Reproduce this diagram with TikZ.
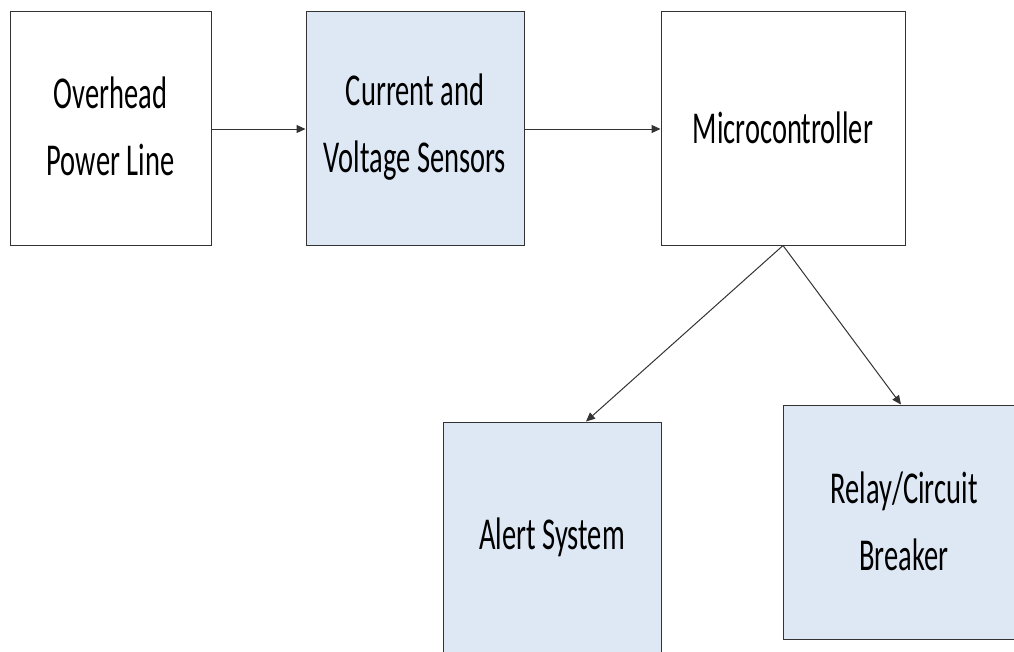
\documentclass[tikz,border=0pt]{standalone}
\usepackage{fontspec}
\setmainfont{Carlito}
\usetikzlibrary{arrows.meta}
\definecolor{boxblue}{HTML}{DEE8F5}
\definecolor{edge}{HTML}{333333}
\tikzset{
  blockbox/.style={draw=edge, line width=1pt, minimum width=#1, inner sep=0pt},
  boxtext/.style={yscale=1.6, transform shape, align=center, inner sep=0pt, text=black,
    font=\fontsize{28.5}{41.9}\selectfont},
  arr/.style={draw=edge, line width=1pt, -{Triangle[length=9pt,width=8pt]}}
}
\begin{document}
\begin{tikzpicture}[x=1pt,y=-1pt]
\useasboundingbox (0,0) rectangle (1014,651);
\clip (0,0) rectangle (1014,651);
\fill[white] (0,0) rectangle (1014,651);
% boxes
\node[blockbox=201pt, minimum height=234pt, fill=white] (b1) at (110.5,128) {};
\node[blockbox=218pt, minimum height=234pt, fill=boxblue] (b2) at (415,128) {};
\node[blockbox=244pt, minimum height=234pt, fill=white] (b3) at (783,128) {};
\node[blockbox=218pt, minimum height=234pt, fill=boxblue] (b4) at (552,539) {};
\node[blockbox=242pt, minimum height=234pt, fill=boxblue] (b5) at (904,522) {};
% texts
\node[boxtext] (t1) at (110.5,126.5) {Overhead\\Power Line};
\node[boxtext] (t2) at (415,127.5) {Current and\\Voltage Sensors};
\node[boxtext] (t3) at (783,127.5) {Microcontroller};
\node[boxtext] (t4) at (552,537) {Alert System};
\node[boxtext] (t5) at (904,521) {Relay/Circuit\\Breaker};
% connectors
\draw[arr] ([yshift=-1pt]b1.east) -- ([yshift=-1pt]b2.west);
\draw[arr] ([yshift=-1pt]b2.east) -- ([yshift=-1pt]b3.west);
\draw[arr] (b3.south) -- ([xshift=34pt]b4.north);
\draw[arr] (b3.south) -- ([xshift=-3pt]b5.north);
\end{tikzpicture}
\end{document}
